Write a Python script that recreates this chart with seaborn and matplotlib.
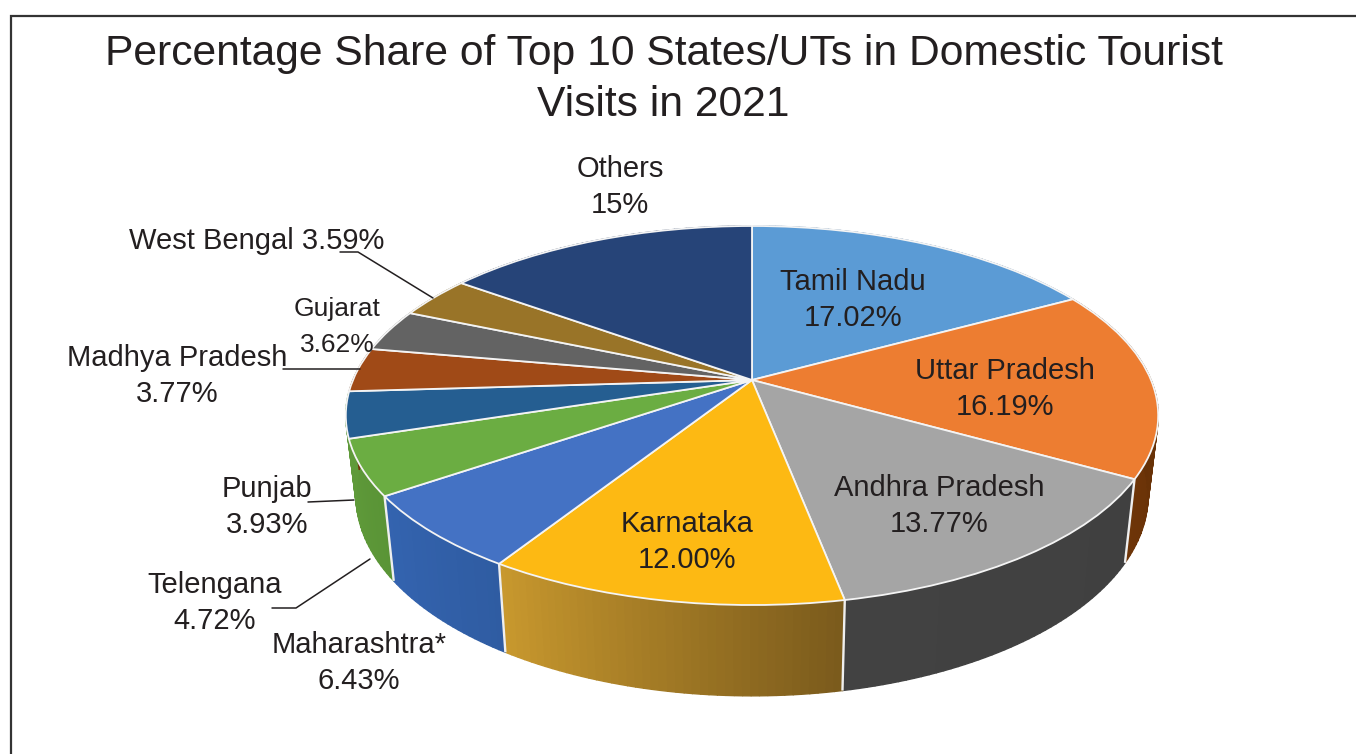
import numpy as np
import matplotlib
matplotlib.use("Agg")
import matplotlib.pyplot as plt
from matplotlib.transforms import Transform
import seaborn as sns

states = ["Tamil Nadu", "Uttar Pradesh", "Andhra Pradesh", "Karnataka", "Maharashtra*",
          "Telengana", "Punjab", "Madhya Pradesh", "Gujarat", "West Bengal", "Others"]
shares = [17.02, 16.19, 13.77, 12.00, 6.43, 4.72, 3.93, 3.77, 3.62, 3.59, 15]
share_text = ["17.02%", "16.19%", "13.77%", "12.00%", "6.43%", "4.72%", "3.93%",
              "3.77%", "3.62%", "3.59%", "15%"]
top_colors = ["#5B9BD5", "#ED7D31", "#A5A5A5", "#FDB913", "#4472C4", "#6BAD42",
              "#255E91", "#A04A17", "#636363", "#997428", "#264478"]
wall_left = ["#3F6F9E", "#6E3508", "#424242", "#C9992E", "#3464B0", "#5F9A3A",
             "#5F9A3A", "#6E320A", "#454545", "#6B5000", "#1A3054"]
wall_right = ["#3F6F9E", "#5E2C06", "#404040", "#7A5A1C", "#2F5CA2", "#5A9436",
              "#5F9A3A", "#6E320A", "#454545", "#6B5000", "#1A3054"]
title_text = "Percentage Share of Top 10 States/UTs in Domestic Tourist\nVisits in 2021"

sns.set_theme(style="white")
plt.rcParams["font.family"] = ["Liberation Sans", "DejaVu Sans"]
INK = "#231F20"

fig = plt.figure(figsize=(13.56, 7.54), dpi=100)
ax = fig.add_axes([0, 0, 1, 1])


def project(x, y):
    """Perspective view of the unit disc on the image plane."""
    c = 0.1873
    w = 1 + c * y
    return 752 + 399 * x / w, (380 - 111.7 * y) / w


class Perspective(Transform):
    input_dims = 2
    output_dims = 2
    is_separable = False
    has_inverse = False

    def transform_non_affine(self, values):
        values = np.asarray(values, dtype=float)
        return np.column_stack(project(values[:, 0], values[:, 1]))


def lower(px, py):
    """Same rim on the underside of the slab."""
    return 752 + (px - 752) * 0.975, 380 + 78 + (py - 380) * 1.057


wedges, _ = ax.pie(shares, colors=sns.color_palette(top_colors), startangle=90, counterclock=False,
                   wedgeprops=dict(edgecolor="#F4F4F4", linewidth=1.3))
persp = Perspective() + ax.transData
for w in wedges:
    w.set_transform(persp)
    w.set_zorder(3)

# side wall of the slab, shaded strip by strip
for w, cl, cr in zip(wedges, wall_left, wall_right):
    t1, t2 = w.theta1, w.theta2
    n = max(int((t2 - t1) / 1.0), 2)
    edges = np.radians(np.linspace(t1, t2, n + 1))
    c1 = np.array(matplotlib.colors.to_rgb(cl))
    c2 = np.array(matplotlib.colors.to_rgb(cr))
    for i in range(n):
        a = edges[i:i + 2]
        px, py = project(np.cos(a), np.sin(a))
        qx, qy = lower(px, py)
        col = c1 + (c2 - c1) * (i + 0.5) / n
        ax.fill(np.r_[px, qx[::-1]], np.r_[py, qy[::-1]], color=col, lw=1.0, zorder=1)

# white seams on the wall between slices
for w in wedges:
    a = np.radians(w.theta1)
    if np.sin(a) < -0.35:
        px, py = project(np.cos(a), np.sin(a))
        qx, qy = lower(px, py)
        ax.plot([px, qx], [py, qy], color="#EFEFEF", lw=1.7, zorder=2, solid_capstyle="butt")

# labels
label_xy = {
    "Tamil Nadu": (853, 300), "Uttar Pradesh": (1005, 389), "Andhra Pradesh": (939, 506),
    "Karnataka": (687, 542), "Maharashtra*": (359, 663), "Telengana": (215, 603),
    "Punjab": (267, 507), "Madhya Pradesh": (177, 376), "Gujarat": (337, 327),
    "Others": (620, 187),
}
for name, pct in zip(states, share_text):
    if name in label_xy:
        x, y = label_xy[name]
        small = name == "Gujarat"
        ax.text(x, y, f"{name}\n{pct}", ha="center", va="center", color=INK,
                fontsize=19 if small else 21, linespacing=1.65 if small else 1.35, zorder=6)
    else:
        ax.text(257, 241, f"{name} {pct}", ha="center", va="center", color=INK, fontsize=21, zorder=6)

# leader lines
for xs, ys in [([340, 358, 433], [252, 252, 298]),
               ([283, 360], [369, 369]),
               ([308, 354], [502, 500]),
               ([272, 296, 370], [608, 608, 559])]:
    ax.plot(xs, ys, color=INK, lw=1.1, zorder=5)

# outer frame
ax.plot([11, 11, 1356], [754, 15.5, 15.5], color="#333333", lw=1.6, zorder=5, solid_joinstyle="miter")

fig.suptitle(title_text, x=663.5 / 1356, y=1 - 79.5 / 754, va="center", ha="center",
             fontsize=30.7, color=INK, linespacing=1.365)

ax.set_aspect("auto")
ax.set_xlim(0, 1356)
ax.set_ylim(754, 0)
ax.axis("off")
fig.savefig("out.png", dpi=100, facecolor="white")
